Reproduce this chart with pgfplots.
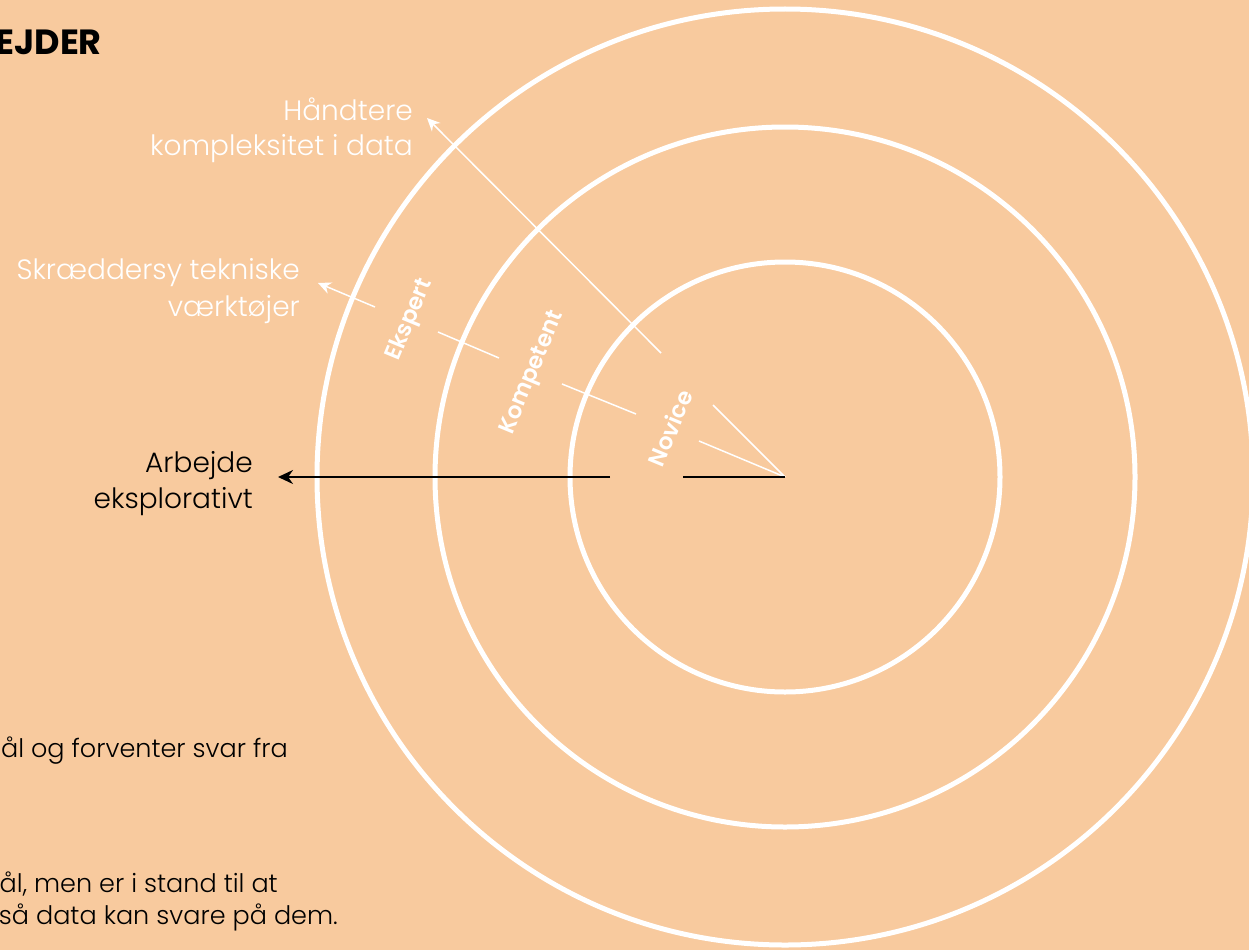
\documentclass[border=0pt]{standalone}
\usepackage{pgfplots}
\pgfplotsset{compat=1.18}
\usetikzlibrary{arrows.meta}
\usepackage{fontspec}
\setmainfont{Poppins}[UprightFont={* Light},BoldFont={* SemiBold}]
\newfontfamily\titlefont{Poppins}[UprightFont={* Bold}]
\definecolor{bg}{RGB}{248,202,158}
\newcommand{\fs}[1]{\fontsize{#1}{#1}\selectfont}
\begin{document}
\begin{tikzpicture}
\path[use as bounding box] (0,0) rectangle (1249pt,950pt);
\clip (0,0) rectangle (1249pt,950pt);
\fill[bg] (0,0) rectangle (1249pt,950pt);
\begin{axis}[at={(0,0)},anchor=south west,scale only axis,width=1249pt,height=950pt,
  xmin=0,xmax=1249,ymin=0,ymax=950,y dir=reverse,hide axis,clip=false]
% rings
\draw[white,line width=5pt] (axis cs:785,477) circle[radius=215pt];
\draw[white,line width=5pt] (axis cs:785,477) circle[radius=350pt];
\draw[white,line width=5pt] (axis cs:785,477) circle[radius=468pt];
% axis lines
\addplot[white,line width=1.5pt] coordinates {(785,477) (713,405)};
\addplot[white,line width=1.5pt,-{Stealth[length=13pt,width=12pt]}] coordinates {(661,353) (427,118)};
\addplot[white,line width=1.5pt] coordinates {(785,477) (699,441)};
\addplot[white,line width=1.5pt] coordinates {(636,414) (562,384)};
\addplot[white,line width=1.5pt] coordinates {(499,358) (438,332)};
\addplot[white,line width=1.5pt,-{Stealth[length=13pt,width=12pt]}] coordinates {(375,307) (318,283)};
\addplot[black,line width=2pt] coordinates {(785,477) (683,477)};
\addplot[black,line width=2pt,-{Stealth[length=15pt,width=14pt]}] coordinates {(610,477) (278,477)};
% level labels
\node[white,font=\bfseries\fs{23},rotate=67.5,inner sep=0pt] at (axis cs:670,428) {Novice};
\node[white,font=\bfseries\fs{23},rotate=67.5,inner sep=0pt] at (axis cs:533,373) {Kompetent};
\node[white,font=\bfseries\fs{23},rotate=67.5,inner sep=0pt] at (axis cs:410,320) {Ekspert};
% axis texts
\node[white,font=\fs{28},anchor=base east,inner sep=0pt] at (axis cs:413,120) {Håndtere};
\node[white,font=\fs{28},anchor=base east,inner sep=0pt] at (axis cs:413,155) {kompleksitet i data};
\node[white,font=\fs{28},anchor=base east,inner sep=0pt] at (axis cs:300,279) {Skræddersy tekniske};
\node[white,font=\fs{28},anchor=base east,inner sep=0pt] at (axis cs:300,316) {værktøjer};
\node[black,font=\fs{28},anchor=base east,inner sep=0pt] at (axis cs:253,472) {Arbejde};
\node[black,font=\fs{28},anchor=base east,inner sep=0pt] at (axis cs:253,508) {eksplorativt};
% title and notes
\node[black,font=\titlefont\fs{35},anchor=base east,inner sep=0pt] at (axis cs:102,55) {EJDER};
\node[black,font=\fs{25.5},anchor=base east,inner sep=0pt] at (axis cs:288,757) {ål og forventer svar fra};
\node[black,font=\fs{25.5},anchor=base east,inner sep=0pt] at (axis cs:278,892) {ål, men er i stand til at};
\node[black,font=\fs{25.5},anchor=base east,inner sep=0pt] at (axis cs:338,924) {så data kan svare på dem.};
\end{axis}
\end{tikzpicture}
\end{document}
